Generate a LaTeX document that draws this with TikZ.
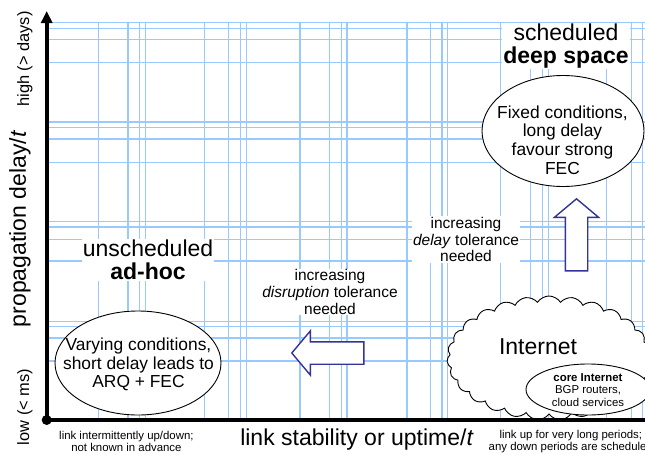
\documentclass[tikz,border=0pt]{standalone}
\usepackage{fontspec}
\setmainfont{Liberation Sans}
\usetikzlibrary{arrows.meta,shapes.geometric,shapes.symbols,shapes.arrows}
\definecolor{gridblue}{RGB}{153,202,255}
\definecolor{arrowblue}{RGB}{51,51,153}
\tikzset{
  gridline/.style={gridblue, line width=1.3pt},
  axisline/.style={black, line width=3.6pt},
  bigtext/.style={inner sep=0pt, font=\fontsize{23}{23.5}\selectfont},
  sidetext/.style={inner sep=0pt, font=\fontsize{16.4}{17}\selectfont},
  foottext/.style={inner sep=0pt, align=center, font=\fontsize{11.4}{11.5}\selectfont},
  region/.style={fill=white, inner sep=1pt, align=center, font=\fontsize{23}{23.5}\selectfont},
  note/.style={fill=white, inner sep=1pt, align=center, font=\fontsize{15.5}{16.7}\selectfont},
  bubble/.style={ellipse, draw, fill=white, line width=0.9pt, inner sep=0pt},
  bubbletext/.style={align=center, inner sep=0pt, font=\fontsize{17.4}{18.8}\selectfont},
  fatarrow/.style={single arrow, draw=arrowblue, fill=white, line width=1.4pt,
    minimum height=72pt, minimum width=43pt, inner sep=10.5pt,
    single arrow head extend=11pt, single arrow tip angle=100},
}
\begin{document}
\begin{tikzpicture}[x=1pt, y=-1pt]
\useasboundingbox (0,0) rectangle (645,453);
\clip (0,0) rectangle (645,453);

% background grid
\foreach \gx in {98.7,128,139.7,145.7,204.7,228.7,240.7,246.7,300,329.7,341.7,347,407,430.5,442,447.5,500.7,530.7,542.7,548.3,606.7,631.7,642.7}
  \draw[gridline] (\gx,22.5) -- (\gx,420);
\foreach \gy in {22.5,28.2,39.7,62.7,122,127.3,139,162.7,221.3,227,239.3,261,321.5,326.7,338,361}
  \draw[gridline] (46.7,\gy) -- (650,\gy);

% region labels
\node[region] (adhoc) at (148,260) {unscheduled\\\textbf{ad-hoc}};
\node[region] (deep) at (566,46) {scheduled\\\textbf{deep space}};

% trend notes
\node[note] (disrupt) at (330,292) {increasing\\\textit{disruption} tolerance\\needed};
\node[note] (delay) at (466,239.5) {increasing\\\textit{delay} tolerance\\needed};

% trend arrows
\node[fatarrow, shape border rotate=180] (leftarrow) at (332.5,353) {};
\node[fatarrow, shape border rotate=90] (uparrow) at (576.5,239.5) {};

% deep space conditions
\node[bubble, minimum width=162pt, minimum height=111pt] (deepell) at (563,131) {};
\node[bubbletext] (deeptxt) at (562.5,140) {Fixed conditions,\\long delay\\favour strong\\FEC};

% ad-hoc conditions
\node[bubble, minimum width=166pt, minimum height=104pt] (adhocell) at (138,363) {};
\node[bubbletext] (adhoctxt) at (138.5,364.5) {Varying conditions,\\short delay leads to\\ARQ + FEC};

% internet cloud, resting on the x axis
\begin{scope}
  \clip (400,250) rectangle (650,420);
  \node[cloud, draw, fill=white, line width=0.9pt, cloud puffs=27, cloud puff arc=115,
    aspect=1.65, minimum width=204pt, minimum height=124pt] (net) at (549,358) {};
\end{scope}
\node[bigtext] (nettxt) at (538,347) {Internet};
\node[bubble, minimum width=124pt, minimum height=51pt] (coreell) at (588,389.5) {};
\node[inner sep=0pt, align=center, font=\fontsize{11.4}{12.2}\selectfont] (coretxt) at (588,390)
  {\textbf{core Internet}\\BGP routers,\\cloud services};

% axes
\coordinate (origin) at (46.7,420);
\coordinate (ytop) at (46.7,11);
\coordinate (xend) at (650,420);
\draw[axisline, -{Triangle[length=12pt, width=11pt]}] (origin) -- (ytop);
\draw[axisline] (origin) -- (xend);
\fill (origin) circle (5pt);

% axis labels
\node[bigtext, rotate=90] (ylab) at (20,229) {propagation delay/\textit{t}};
\node[sidetext, rotate=90] (yhigh) at (25,59) {high (> days)};
\node[sidetext, rotate=90] (ylow) at (25,407) {low (< ms)};
\node[bigtext] (xlab) at (357,440) {link stability or uptime/\textit{t}};
\node[foottext] (xlow) at (126.4,441.5) {link intermittently up/down;\\not known in advance};
\node[foottext] (xhigh) at (570.8,441.5) {link up for very long periods;\\any down periods are scheduled};
\end{tikzpicture}
\end{document}
